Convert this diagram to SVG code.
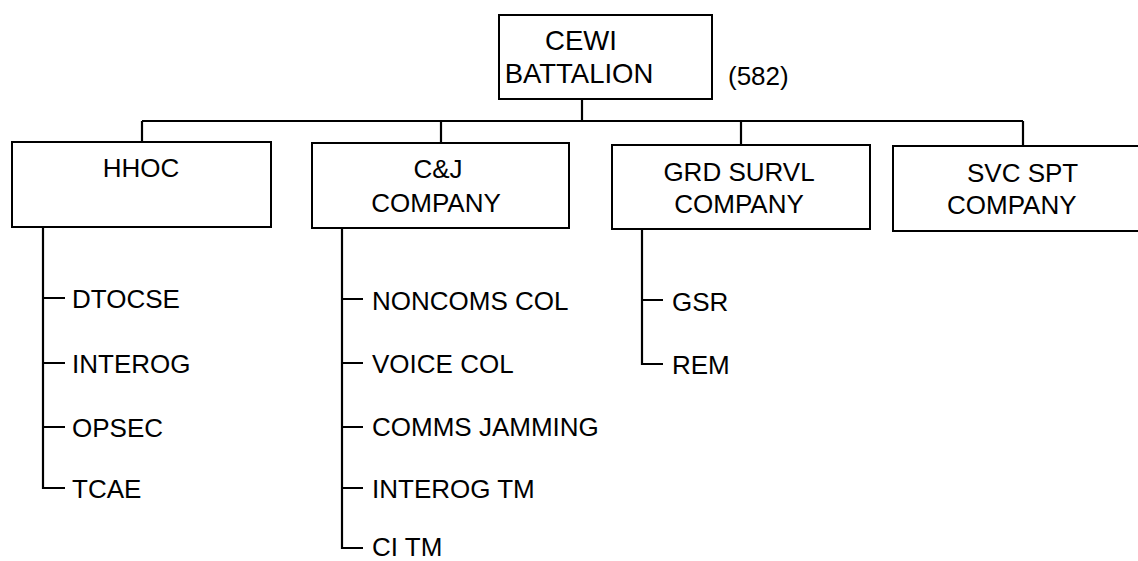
<svg xmlns="http://www.w3.org/2000/svg" width="1138" height="561" viewBox="0 0 1138 561">
<style>
.box{fill:#fff;stroke:#000;stroke-width:2}
.ln{fill:none;stroke:#000;stroke-width:2.2}
text{font-family:"Liberation Sans",Arial,sans-serif;font-size:26px;fill:#000}
.c{text-anchor:middle}
.big{font-size:27.5px}
</style>
<rect width="1138" height="561" fill="#fff"/>
<g id="connectors">
<path class="ln" d="M582 99V121M142 121H1023M142 121V142M441 121V143M741 121V145M1023 121V146"/>
<path class="ln" d="M43 227V488H65M43 298H65M43 363H65M43 427H65"/>
<path class="ln" d="M342 228V548H363M342 299H363M342 363H363M342 427H363M342 488H363"/>
<path class="ln" d="M642 229V364H663M642 300H663"/>
</g>
<g id="cewi">
<rect class="box" x="499" y="15" width="213" height="84"/>
<text class="c big" x="581" y="50">CEWI</text>
<text class="c big" x="579" y="83">BATTALION</text>
<text x="728" y="85">(582)</text>
</g>
<g id="hhoc">
<rect class="box" x="12" y="142" width="259" height="85"/>
<text class="c" x="141" y="177">HHOC</text>
</g>
<g id="cj">
<rect class="box" x="312" y="143" width="257" height="85"/>
<text class="c" x="438" y="178">C&amp;J</text>
<text class="c" x="436" y="212">COMPANY</text>
</g>
<g id="grd">
<rect class="box" x="612" y="145" width="258" height="84"/>
<text class="c" x="739" y="181">GRD SURVL</text>
<text class="c" x="739" y="213">COMPANY</text>
</g>
<g id="svc">
<rect class="box" x="893" y="146" width="250" height="85"/>
<text x="967" y="182">SVC SPT</text>
<text x="947" y="214">COMPANY</text>
</g>
<g id="hhoc-items">
<text x="72" y="308">DTOCSE</text>
<text x="72" y="373">INTEROG</text>
<text x="72" y="437">OPSEC</text>
<text x="72" y="498">TCAE</text>
</g>
<g id="cj-items">
<text x="372" y="310">NONCOMS COL</text>
<text x="372" y="373">VOICE COL</text>
<text x="372" y="436">COMMS JAMMING</text>
<text x="372" y="498">INTEROG TM</text>
<text x="372" y="556">CI TM</text>
</g>
<g id="grd-items">
<text x="672" y="311">GSR</text>
<text x="672" y="374">REM</text>
</g>
</svg>
